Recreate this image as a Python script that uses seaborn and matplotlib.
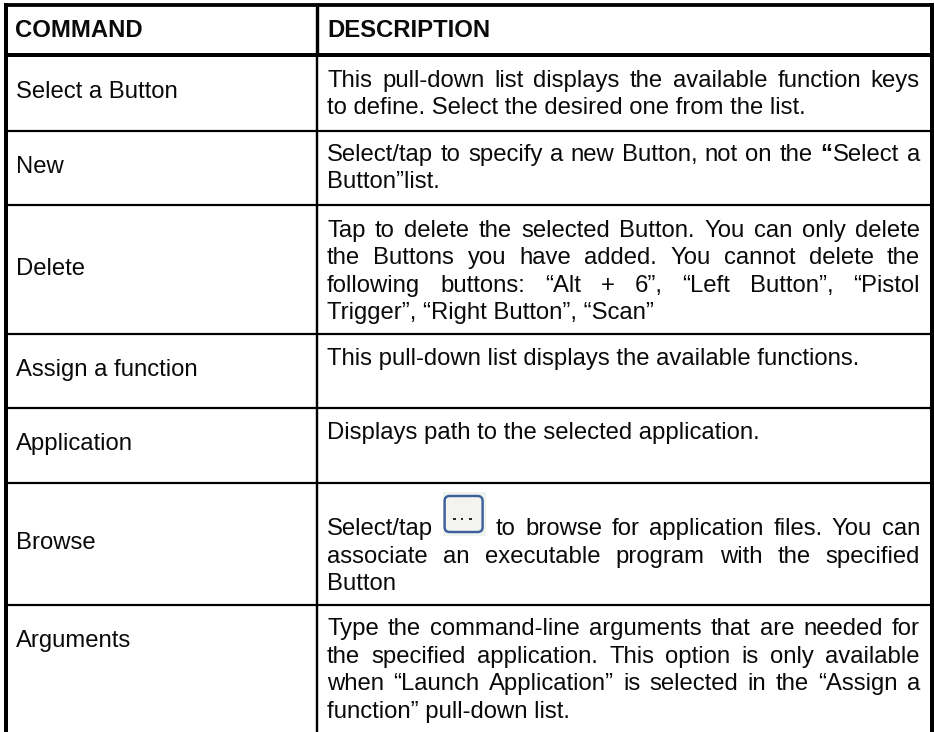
import matplotlib
matplotlib.use("Agg")
import matplotlib.pyplot as plt
from matplotlib.patches import FancyBboxPatch, Rectangle
import seaborn as sns

# table content
header = ["COMMAND", "DESCRIPTION"]
commands = ["Select a Button", "New", "Delete", "Assign a function",
            "Application", "Browse", "Arguments"]
select_lines = ["This pull-down list displays the available function keys",
                "to define. Select the desired one from the list."]
new_lines = ["Select/tap to specify a new Button, not on the *“Select a",
             "Button”list."]
delete_lines = ["Tap to delete the selected Button. You can only delete",
                "the Buttons you have added. You cannot delete the",
                "following buttons: “Alt + 6”, “Left Button”, “Pistol",
                "Trigger”, “Right Button”, “Scan”"]
assign_lines = ["This pull-down list displays the available functions."]
application_lines = ["Displays path to the selected application."]
browse_lines = ["Select/tap [icon] to browse for application files. You can",
                "associate an executable program with the specified",
                "Button"]
arguments_lines = ["Type the command-line arguments that are needed for",
                   "the specified application. This option is only available",
                   "when “Launch Application” is selected in the “Assign a",
                   "function” pull-down list."]
descriptions = [select_lines, new_lines, delete_lines, assign_lines,
                application_lines, browse_lines, arguments_lines]

# layout in pixels
FIG_W, FIG_H = 934, 732
PX = 0.72  # points per pixel at dpi 100
FONT = 17.2
LEFT_X, DESC_X, DESC_R = 15.5, 327, 920
LINE_GAP = 27.6
HEADER_BASE = 37
first_base = [86.7, 160.7, 236.7, 365, 439, 535, 635]
command_base = [98, 173, 275, 376, 450, 549, 647]
row_lines = [131, 205, 334, 408, 483, 605]
ICON_W = 44

sns.set_theme(style="white")
plt.rcParams["font.family"] = ["Liberation Sans", "DejaVu Sans"]

fig = plt.figure(figsize=(FIG_W / 100, FIG_H / 100), dpi=100)
ax = fig.add_axes([0, 0, 1, 1])
ax.set_xlim(0, FIG_W)
ax.set_ylim(FIG_H, 0)
ax.axis("off")

# borders
ax.hlines(5.2, 4, 933.5, color="black", lw=3.8 * PX)
ax.hlines(55, 4, 933.5, color="black", lw=4 * PX)
ax.hlines(row_lines, 4, 933.5, color="black", lw=2.2 * PX)
ax.vlines(6, 3.3, FIG_H, color="black", lw=4 * PX)
ax.vlines(931.5, 3.3, FIG_H, color="black", lw=4 * PX)
ax.vlines(316.8, 3.3, 55, color="black", lw=3.4 * PX)
ax.vlines(317.2, 55, FIG_H, color="black", lw=2.4 * PX)

renderer = fig.canvas.get_renderer()
TEXT_COLOR = "#0a0a0a"


def text_width(word, **kw):
    t = ax.text(0, 0, word, fontsize=FONT, **kw)
    w = t.get_window_extent(renderer).width
    t.remove()
    return w


def word_width(word):
    if word.startswith("*"):
        return text_width(word[1], fontweight="bold") + 1 + text_width(word[2:])
    return text_width(word)


def draw_word(x, y, word):
    if word.startswith("*"):
        # first character is bold in the original
        ax.text(x, y, word[1], fontsize=FONT, color=TEXT_COLOR,
                fontweight="bold", va="baseline")
        w = text_width(word[1], fontweight="bold")
        ax.text(x + w + 1, y, word[2:], fontsize=FONT, color=TEXT_COLOR, va="baseline")
    else:
        ax.text(x, y, word, fontsize=FONT, color=TEXT_COLOR, va="baseline")


def draw_icon(x, base):
    top = base - 40
    ax.add_patch(Rectangle((x, top - 3), ICON_W - 1, 44, fc="#eef3ee", ec="none"))
    ax.add_patch(FancyBboxPatch((x + 2, top + 1), ICON_W - 6, 36,
                                boxstyle="round,pad=0,rounding_size=5",
                                fc="#f3f3f0", ec="#3d5f9c", lw=2.4 * PX))
    for dx in (12, 19.5, 28):
        ax.add_patch(Rectangle((x + dx - 1.3, top + 22.5), 2.6, 2.8, fc="#2a2a2a", ec="none"))


def draw_justified(line, y):
    words = line.split(" ")
    widths = [ICON_W if w == "[icon]" else word_width(w) for w in words]
    gap = (DESC_R - DESC_X - sum(widths)) / (len(words) - 1)
    x = DESC_X
    for word, w in zip(words, widths):
        if word == "[icon]":
            draw_icon(x, y)
        else:
            draw_word(x, y, word)
        x += w + gap


# header row
ax.text(LEFT_X, HEADER_BASE, header[0], fontsize=FONT, fontweight="bold",
        color=TEXT_COLOR, va="baseline")
ax.text(DESC_X, HEADER_BASE, header[1], fontsize=FONT, fontweight="bold",
        color=TEXT_COLOR, va="baseline")

# body rows
for cmd, cmd_y, lines, y0 in zip(commands, command_base, descriptions, first_base):
    ax.text(LEFT_X, cmd_y, cmd, fontsize=FONT, color=TEXT_COLOR, va="baseline")
    for i, line in enumerate(lines):
        y = y0 + i * LINE_GAP
        if i < len(lines) - 1:
            draw_justified(line, y)
        else:
            ax.text(DESC_X, y, line, fontsize=FONT, color=TEXT_COLOR, va="baseline")

fig.savefig("out.png", dpi=100, facecolor="white")
